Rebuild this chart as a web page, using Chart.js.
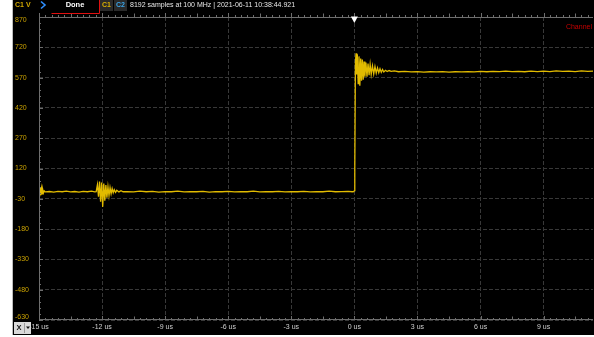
<!DOCTYPE html>
<html lang="en">
<head>
<meta charset="UTF-8">
<title>C1 step capture</title>
<script src="https://cdn.jsdelivr.net/npm/chart.js"></script>
<style>
  html, body { margin: 0; padding: 0; background: #fff; }
  #wrap { position: relative; width: 594px; height: 337px; }
</style>
</head>
<body>
<div id="wrap"><canvas id="scope" width="594" height="337"></canvas></div>
<script>
// tick labels
const xTicks = [-15, -12, -9, -6, -3, 0, 3, 6, 9];
const yTicks = [-630, -480, -330, -180, -30, 120, 270, 420, 570, 720, 870];

// C1 trace, time in us / value
const tUs = [
  -15.00, -14.97, -14.94, -14.91, -14.88, -14.85, -14.82, -14.79, -14.75, -14.70,
  -14.50, -14.30, -14.10, -13.90, -13.70, -13.50, -13.30, -13.10, -12.90, -12.70, -12.50, -12.35,
  -12.28, -12.22, -12.17, -12.12, -12.07, -12.02, -11.97, -11.92, -11.87, -11.82, -11.77, -11.72,
  -11.67, -11.62, -11.57, -11.52, -11.47, -11.42, -11.36, -11.30, -11.20, -11.10, -11.00,
  -10.80, -10.50, -10.20, -9.90, -9.60, -9.30, -9.00, -8.70, -8.40, -8.10, -7.80, -7.50, -7.20,
  -6.90, -6.60, -6.30, -6.00, -5.70, -5.40, -5.10, -4.80, -4.50, -4.20, -3.90, -3.60, -3.30,
  -3.00, -2.70, -2.40, -2.10, -1.80, -1.50, -1.20, -0.90, -0.60, -0.30, -0.10, -0.03,
  0.00, 0.02, 0.05, 0.08, 0.11, 0.14, 0.18, 0.22, 0.26, 0.30, 0.34, 0.38, 0.42, 0.46, 0.50,
  0.55, 0.60, 0.65, 0.70, 0.75, 0.80, 0.86, 0.92, 0.98, 1.04, 1.10, 1.16, 1.22, 1.28, 1.34,
  1.40, 1.48, 1.56, 1.65, 1.75, 1.90, 2.10, 2.40, 2.70, 3.00, 3.30, 3.60, 3.90, 4.20, 4.50,
  4.80, 5.10, 5.40, 5.70, 6.00, 6.30, 6.60, 6.90, 7.20, 7.50, 7.80, 8.10, 8.40, 8.70, 9.00,
  9.30, 9.60, 9.90, 10.20, 10.50, 10.80, 11.10, 11.40
];
const c1 = [
  28, -18, 24, -12, 20, -6, 14, -1, 9, 4,
  6, 3, 7, 5, 8, 4, 6, 3, 7, 5, 8, 4,
  5, 40, -20, 55, -45, 50, -70, 45, -40, 38, -25, 30,
  -15, 25, -5, 20, 0, 15, 2, 12, 4, 10, 5,
  6, 4, 8, 5, 7, 3, 6, 5, 8, 4, 6, 5, 7,
  3, 6, 5, 7, 4, 6, 5, 8, 4, 6, 5, 7, 4,
  6, 5, 7, 4, 6, 5, 8, 5, 6, 7, 5, 6,
  10, 120, 640, 690, 585, 685, 540, 675, 530, 665, 555, 660, 560, 650, 575,
  645, 575, 640, 582, 635, 585, 628, 588, 624, 592, 618, 594, 614, 596, 610,
  598, 606, 600, 605, 601, 603, 599, 601, 598, 600, 597, 599, 598, 600, 597,
  599, 598, 600, 598, 601, 599, 601, 600, 602, 600, 601, 599, 602, 600, 602,
  600, 603, 601, 602, 600, 603, 601, 602
];

const traceColor = '#e2bb00';
const axisGray = '#6e6e6e';
const gridGray = '#383838';
const uiFont = 'Liberation Sans, Arial, sans-serif';

// black scope panel behind everything
const panelBg = {
  id: 'panelBg',
  beforeDraw(chart) {
    const ctx = chart.ctx;
    ctx.save();
    ctx.fillStyle = '#000';
    ctx.fillRect(13, 0, 581, 335);
    ctx.fillStyle = '#bdbdbd';
    ctx.fillRect(12, 0, 1, 335);
    ctx.restore();
  }
};

// scope frame: axis lines, minor ticks, value labels, header, trigger marker
const scopeFrame = {
  id: 'scopeFrame',
  afterDraw(chart) {
    const ctx = chart.ctx;
    const a = chart.chartArea;
    const xs = chart.scales.x, ys = chart.scales.y;
    ctx.save();

    // axis lines
    ctx.strokeStyle = axisGray;
    ctx.lineWidth = 1;
    ctx.beginPath();
    ctx.moveTo(a.left, a.top + 0.5); ctx.lineTo(a.right, a.top + 0.5);
    ctx.moveTo(a.left, a.bottom - 0.5); ctx.lineTo(a.right, a.bottom - 0.5);
    ctx.moveTo(a.left + 0.5, a.top); ctx.lineTo(a.left + 0.5, a.bottom);
    ctx.stroke();

    // minor ticks along time axis
    ctx.beginPath();
    for (let i = 0; ; i++) {
      const t = -15 + i * 0.3;
      if (t > xs.max) break;
      const px = Math.round(xs.getPixelForValue(t)) + 0.5;
      const len = i % 10 === 0 ? 4 : (i % 5 === 0 ? 3.5 : 2);
      ctx.moveTo(px, a.top); ctx.lineTo(px, a.top - len);
      ctx.moveTo(px, a.bottom); ctx.lineTo(px, a.bottom - len);
    }
    // minor ticks along value axis
    for (let i = 0; ; i++) {
      const v = -630 + i * 30;
      if (v > 870) break;
      const py = Math.round(ys.getPixelForValue(v)) + 0.5;
      const len = i % 5 === 0 ? 4 : 2;
      ctx.moveTo(a.left, py); ctx.lineTo(a.left + len, py);
    }
    ctx.stroke();

    // value labels, kept inside the plot height like the scope does
    ctx.font = '7px ' + uiFont;
    ctx.fillStyle = '#c8a000';
    ctx.textAlign = 'left';
    ctx.textBaseline = 'middle';
    yTicks.forEach(v => {
      const py = Math.min(Math.max(ys.getPixelForValue(v), a.top + 3), a.bottom - 3);
      ctx.fillText(String(v), 15, py);
    });

    // header
    ctx.font = 'bold 7px ' + uiFont;
    ctx.fillStyle = '#d2a800';
    ctx.fillText('C1 V', 15, 5);

    ctx.strokeStyle = '#2e8fff';
    ctx.lineWidth = 1.6;
    ctx.beginPath();
    ctx.moveTo(41, 1.5); ctx.lineTo(45, 5); ctx.lineTo(41, 8.5);
    ctx.stroke();

    ctx.strokeStyle = '#e01010';
    ctx.lineWidth = 1;
    ctx.beginPath();
    ctx.moveTo(51.5, 13.5); ctx.lineTo(99.5, 13.5); ctx.lineTo(99.5, 0);
    ctx.stroke();
    ctx.fillStyle = '#ffffff';
    ctx.font = 'bold 7.5px ' + uiFont;
    ctx.textAlign = 'center';
    ctx.fillText('Done', 75, 5);

    ctx.fillStyle = '#2a2a2a';
    ctx.fillRect(100, 0, 13, 11);
    ctx.fillRect(114, 0, 13, 11);
    ctx.font = 'bold 7px ' + uiFont;
    ctx.fillStyle = '#d8b000';
    ctx.fillText('C1', 106.5, 5);
    ctx.fillStyle = '#3aa4e8';
    ctx.fillText('C2', 120.5, 5);

    ctx.textAlign = 'left';
    ctx.font = '7px ' + uiFont;
    ctx.fillStyle = '#e6e6e6';
    ctx.fillText('8192 samples at 100 MHz | 2021-06-11 10:38:44.921', 130, 5);

    ctx.textAlign = 'right';
    ctx.fillStyle = '#c80000';
    ctx.fillText('Channel', 592, 27);

    // trigger marker at t = 0
    const tx = xs.getPixelForValue(0);
    ctx.fillStyle = '#ffffff';
    ctx.beginPath();
    ctx.moveTo(tx - 3.5, a.top - 0.5);
    ctx.lineTo(tx + 3.5, a.top - 0.5);
    ctx.lineTo(tx, a.top + 6);
    ctx.closePath();
    ctx.fill();

    // X axis selector box
    ctx.fillStyle = '#d9d9d9';
    ctx.fillRect(14, 322, 17, 12);
    ctx.fillStyle = '#9a9a9a';
    ctx.fillRect(24, 323, 1, 10);
    ctx.fillStyle = '#111';
    ctx.font = 'bold 7.5px ' + uiFont;
    ctx.textAlign = 'center';
    ctx.fillText('X', 19, 328);
    ctx.beginPath();
    ctx.moveTo(26, 326.5); ctx.lineTo(30, 326.5); ctx.lineTo(28, 329);
    ctx.closePath();
    ctx.fill();

    ctx.restore();
  }
};

const ctx = document.getElementById('scope').getContext('2d');
new Chart(ctx, {
  type: 'line',
  data: {
    datasets: [{
      label: 'C1',
      data: tUs.map((t, i) => ({ x: t, y: c1[i] })),
      borderColor: traceColor,
      borderWidth: 1.3,
      pointRadius: 0,
      tension: 0,
      fill: false
    }]
  },
  options: {
    responsive: false,
    animation: false,
    events: [],
    layout: { padding: { left: 14, right: 1, top: 17, bottom: 3 } },
    plugins: { legend: { display: false }, tooltip: { enabled: false } },
    scales: {
      x: {
        type: 'linear',
        min: -15,
        max: 11.35,
        afterBuildTicks: s => { s.ticks = xTicks.map(v => ({ value: v })); },
        afterFit: s => { s.height = 14; },
        grid: { color: gridGray, drawTicks: false },
        border: { display: false, dash: [4, 2] },
        ticks: {
          color: '#d0d0d0',
          font: { family: uiFont, size: 7 },
          padding: 3,
          maxRotation: 0,
          autoSkip: false,
          callback: v => v + ' us'
        }
      },
      y: {
        min: -630,
        max: 870,
        afterBuildTicks: s => { s.ticks = yTicks.map(v => ({ value: v })); },
        afterFit: s => { s.width = 25; },
        grid: { color: gridGray, drawTicks: false },
        border: { display: false, dash: [4, 2] },
        ticks: { display: false }
      }
    }
  },
  plugins: [panelBg, scopeFrame]
});
</script>
</body>
</html>
